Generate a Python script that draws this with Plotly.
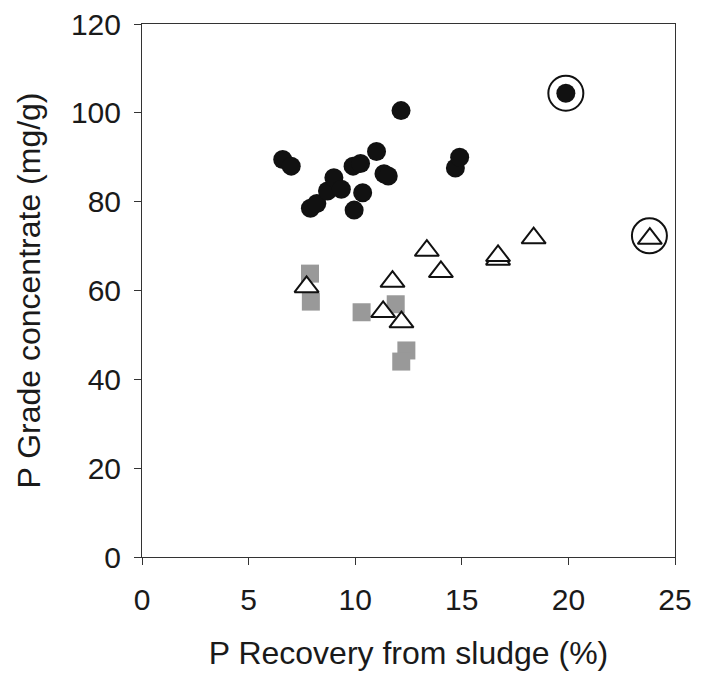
import plotly.graph_objects as go

# Black circles
circle_x = [6.6, 7.0, 7.9, 8.2, 8.7, 9.0, 9.35, 9.9, 10.25, 9.95, 10.35, 11.0, 11.35, 11.55, 12.15, 14.7, 14.9, 19.88]
circle_y = [89.5, 88.0, 78.5, 79.6, 82.4, 85.4, 82.8, 88.0, 88.6, 78.1, 82.0, 91.3, 86.3, 85.8, 100.5, 87.6, 90.0, 104.4]

# Open triangles
tri_x = [7.72, 11.75, 11.31, 12.17, 13.36, 14.02, 16.70, 16.70, 18.37, 23.82]
tri_y = [60.8, 62.0, 55.2, 52.9, 69.0, 64.2, 67.0, 67.8, 71.8, 71.7]

# Grey squares
sq_x = [7.88, 7.92, 10.3, 11.9, 12.4, 12.16]
sq_y = [63.8, 57.5, 55.1, 56.9, 46.5, 44.0]

# Highlighted (ringed) points
ring_x = [19.88, 23.80]
ring_y = [104.4, 72.3]

x_ticks = [0, 5, 10, 15, 20, 25]
y_ticks = [0, 20, 40, 60, 80, 100, 120]

fig = go.Figure()
fig.add_trace(go.Scatter(x=sq_x, y=sq_y, mode="markers",
                         marker=dict(symbol="square", size=18, color="#999999",
                                     line=dict(width=0))))
fig.add_trace(go.Scatter(x=tri_x, y=tri_y, mode="markers",
                         marker=dict(symbol="triangle-up", size=21, color="white",
                                     line=dict(width=2, color="#111111"))))
fig.add_trace(go.Scatter(x=circle_x, y=circle_y, mode="markers",
                         marker=dict(symbol="circle", size=19, color="#111111",
                                     line=dict(width=0))))
fig.add_trace(go.Scatter(x=ring_x, y=ring_y, mode="markers",
                         marker=dict(symbol="circle-open", size=35, color="#111111",
                                     line=dict(width=2, color="#111111"))))

axis_common = dict(showline=True, linecolor="#333333", linewidth=1, mirror=True,
                   ticks="outside", ticklen=7, tickwidth=1, tickcolor="#333333",
                   showgrid=False, zeroline=False,
                   tickfont=dict(family="Liberation Sans, Arial", size=30, color="#1a1a1a"))

fig.update_layout(
    width=707, height=673,
    margin=dict(l=142, r=32, t=24, b=116),
    plot_bgcolor="white", paper_bgcolor="white",
    showlegend=False,
    xaxis=dict(range=[0, 25], tickvals=x_ticks, ticktext=[str(v) for v in x_ticks],
               ticklabelstandoff=9,
               title=dict(text="P Recovery from sludge (%)", standoff=26,
                          font=dict(family="Liberation Sans, Arial", size=32, color="#1a1a1a")),
               **axis_common),
    yaxis=dict(range=[0, 120], tickvals=y_ticks, ticktext=[str(v) for v in y_ticks],
               ticklabelstandoff=7,
               title=dict(text="P Grade concentrate (mg/g)", standoff=20,
                          font=dict(family="Liberation Sans, Arial", size=32, color="#1a1a1a")),
               **axis_common),
)
fig.update_xaxes(automargin=False)
fig.update_yaxes(automargin=False)

fig.write_html("out.html")
